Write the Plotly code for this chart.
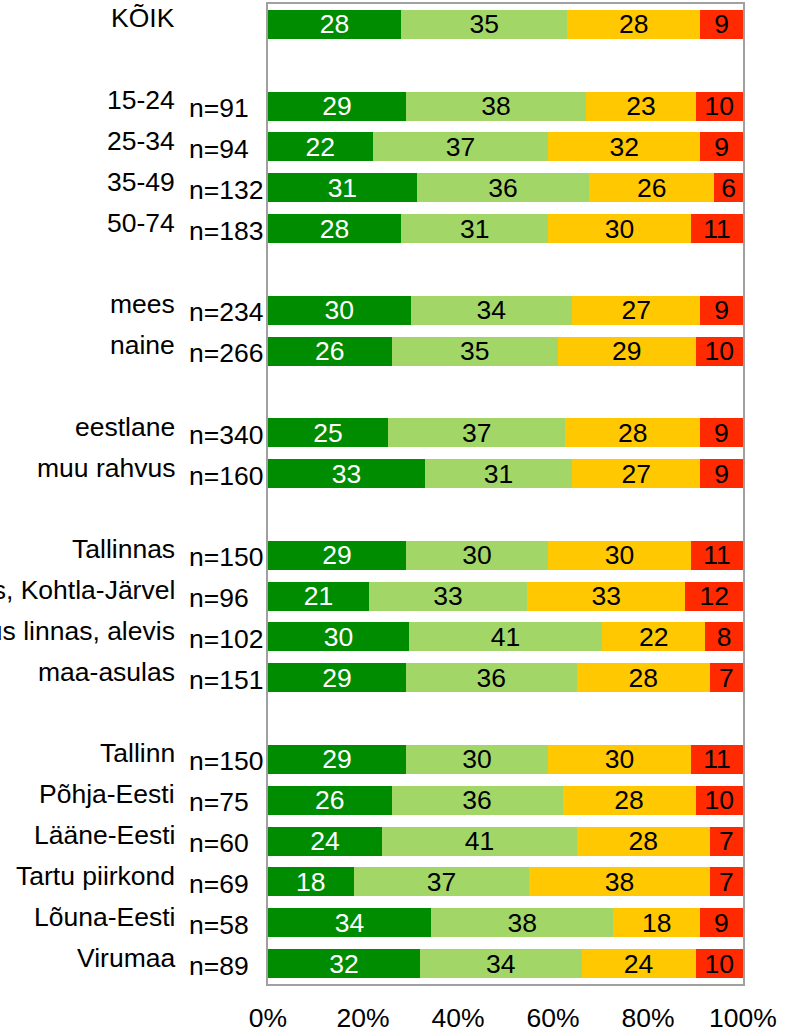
import plotly.graph_objects as go

# ---- data ----
groups = [
    ["KÕIK"],
    ["15-24", "25-34", "35-49", "50-74"],
    ["mees", "naine"],
    ["eestlane", "muu rahvus"],
    ["Tallinnas", "Narvas, Kohtla-Järvel", "muus linnas, alevis", "maa-asulas"],
    ["Tallinn", "Põhja-Eesti", "Lääne-Eesti", "Tartu piirkond", "Lõuna-Eesti", "Virumaa"],
]
n_labels = ["", "n=91", "n=94", "n=132", "n=183", "n=234", "n=266", "n=340", "n=160",
            "n=150", "n=96", "n=102", "n=151",
            "n=150", "n=75", "n=60", "n=69", "n=58", "n=89"]
s1 = [28, 29, 22, 31, 28, 30, 26, 25, 33, 29, 21, 30, 29, 29, 26, 24, 18, 34, 32]
s2 = [35, 38, 37, 36, 31, 34, 35, 37, 31, 30, 33, 41, 36, 30, 36, 41, 37, 38, 34]
s3 = [28, 23, 32, 26, 30, 27, 29, 28, 27, 30, 33, 22, 28, 30, 28, 28, 38, 18, 24]
s4 = [9, 10, 9, 6, 11, 9, 10, 9, 9, 11, 12, 8, 7, 11, 10, 7, 7, 9, 10]
series = [s1, s2, s3, s4]
colors = ["#008c00", "#a2d768", "#ffc800", "#ff2a00"]
text_colors = ["white", "black", "black", "black"]
x_ticks = [0, 20, 40, 60, 80, 100]
x_tick_labels = ["0%", "20%", "40%", "60%", "80%", "100%"]

# ---- slot positions (one empty slot between groups) ----
labels, ypos = [], []
slot = 0
for gi, g in enumerate(groups):
    if gi > 0:
        slot += 1
    for lab in g:
        labels.append(lab)
        ypos.append(slot)
        slot += 1
n_slots = slot

FONT = "Liberation Sans, Arial, sans-serif"
FS = 26.5

fig = go.Figure()
for vals, col, tc in zip(series, colors, text_colors):
    fig.add_trace(go.Bar(
        x=vals, y=ypos, orientation="h",
        marker=dict(color=col, line=dict(width=0)),
        text=[str(v) for v in vals], textposition="inside",
        insidetextanchor="middle", textangle=0, constraintext="none",
        textfont=dict(color=tc, size=FS, family=FONT),
        hoverinfo="skip", showlegend=False,
    ))

W, H = 796, 1032
ml, mr, mt, mb = 268, 53, 4, 48
pw = W - ml - mr

def px_to_paper(px):
    return (px - ml) / pw

for lab, y in zip(labels, ypos):
    fig.add_annotation(x=px_to_paper(177), y=y, xref="paper", yref="y",
                       text=lab, showarrow=False, xanchor="right", yanchor="middle",
                       yshift=6, font=dict(size=FS, color="black", family=FONT))
for nl, y in zip(n_labels, ypos):
    if nl:
        fig.add_annotation(x=px_to_paper(187), y=y, xref="paper", yref="y",
                           text=nl, showarrow=False, xanchor="left", yanchor="middle",
                           yshift=-2, font=dict(size=FS, color="black", family=FONT))

fig.update_layout(
    width=W, height=H,
    margin=dict(l=ml, r=mr, t=mt, b=mb, autoexpand=False),
    barmode="stack", barnorm="percent", bargap=0.29,
    plot_bgcolor="white", paper_bgcolor="white",
    font=dict(family=FONT, size=FS, color="black"),
)
fig.update_xaxes(range=[0, 100], tickvals=x_ticks, ticktext=x_tick_labels,
                 showgrid=False, zeroline=False, showline=True, mirror=True,
                 linecolor="#a0a0a0", linewidth=2, ticks="", automargin=False,
                 ticklabelstandoff=9, tickfont=dict(size=FS, family=FONT))
fig.update_yaxes(range=[n_slots - 0.5, -0.5], showticklabels=False, showgrid=False,
                 zeroline=False, showline=True, mirror=True, automargin=False,
                 linecolor="#a0a0a0", linewidth=2, ticks="")

fig.write_html("out.html", config={"displayModeBar": False},
               post_script="document.body.style.margin='0';document.body.style.overflow='hidden';")
